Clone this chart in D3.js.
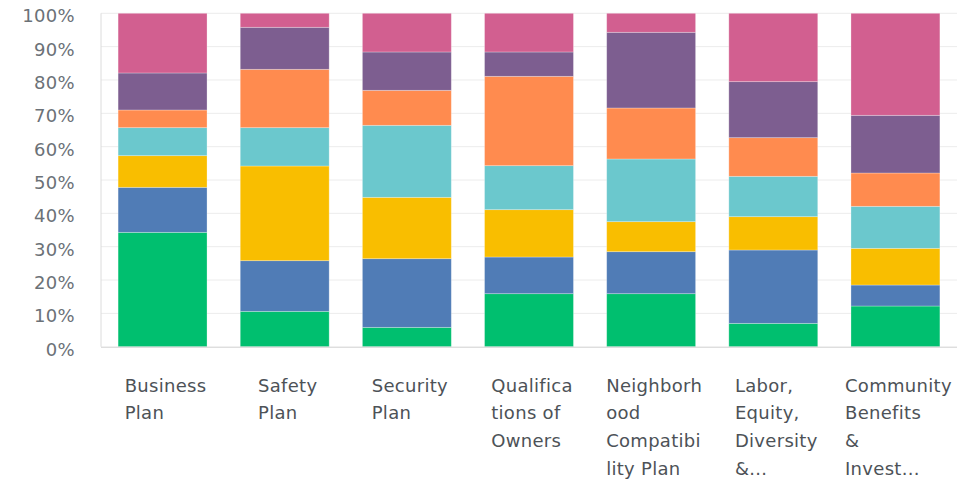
<!DOCTYPE html>
<html>
<head>
<meta charset="utf-8">
<script src="https://cdn.jsdelivr.net/npm/d3@7"></script>
<style>
  body { margin: 0; background: #fff; }
  svg { display: block; }
</style>
</head>
<body>
<div id="container"></div>
<script>
// categories and their wrapped tick labels
const categories = ["Business Plan", "Safety Plan", "Security Plan", "Qualifications of Owners",
  "Neighborhood Compatibility Plan", "Labor, Equity, Diversity &...", "Community Benefits & Invest..."];
const tickLines = [
  ["Business", "Plan"],
  ["Safety", "Plan"],
  ["Security", "Plan"],
  ["Qualifica", "tions of", "Owners"],
  ["Neighborh", "ood", "Compatibi", "lity Plan"],
  ["Labor,", "Equity,", "Diversity", "&..."],
  ["Community", "Benefits", "&", "Invest..."]
];

// series values (percent of responses), bottom to top
const s1 = [34.3, 10.6, 5.8, 15.9, 15.9, 7.0, 12.2];
const s2 = [13.5, 15.2, 20.6, 11.0, 12.6, 22.0, 6.3];
const s3 = [9.5, 28.4, 18.4, 14.2, 9.0, 10.0, 11.0];
const s4 = [8.4, 11.5, 21.6, 13.2, 18.8, 12.1, 12.6];
const s5 = [5.3, 17.5, 10.5, 26.8, 15.3, 11.6, 10.0];
const s6 = [11.1, 12.6, 11.5, 7.3, 22.7, 16.8, 17.3];
const s7 = [17.9, 4.2, 11.6, 11.6, 5.7, 20.5, 30.6];

const seriesKeys = ["s1", "s2", "s3", "s4", "s5", "s6", "s7"];
const colors = ["#00bf6f", "#507cb6", "#f9be00", "#6bc8cd", "#ff8b4f", "#7d5e90", "#d25f90"];
const yTicks = [0, 10, 20, 30, 40, 50, 60, 70, 80, 90, 100];

const rows = categories.map((c, i) => ({
  cat: c, s1: s1[i], s2: s2[i], s3: s3[i], s4: s4[i], s5: s5[i], s6: s6[i], s7: s7[i]
}));

const w = 974, h = 479;
const plotLeft = 101, plotRight = 957, plotTop = 13.3, plotBottom = 346.7;
const font = "DejaVu Sans, sans-serif";

const svg = d3.select("#container").append("svg")
  .attr("width", w).attr("height", h);

const x = d3.scaleBand()
  .domain(categories)
  .range([plotLeft, plotRight])
  .paddingInner(0.272)
  .paddingOuter(0.14);

const y = d3.scaleLinear()
  .domain([0, 100])
  .range([plotBottom, plotTop]);

// grid
svg.append("g").selectAll("line")
  .data(yTicks.filter(t => t > 0))
  .enter().append("line")
  .attr("x1", plotLeft).attr("x2", plotRight)
  .attr("y1", d => y(d)).attr("y2", d => y(d))
  .attr("stroke", "#ececec").attr("stroke-width", 1);

svg.append("line")
  .attr("x1", plotLeft).attr("x2", plotLeft)
  .attr("y1", plotTop).attr("y2", plotBottom)
  .attr("stroke", "#dcdcdc");

// y labels
svg.append("g").selectAll("text")
  .data(yTicks)
  .enter().append("text")
  .attr("x", 75)
  .attr("y", d => y(d) + 9)
  .attr("text-anchor", "end")
  .attr("font-family", font)
  .attr("font-size", 18)
  .attr("letter-spacing", 0.3)
  .attr("fill", "#6b7177")
  .text(d => d + "%");

// stacked bars
const stacked = d3.stack().keys(seriesKeys)(rows);

svg.append("g").selectAll("g")
  .data(stacked)
  .enter().append("g")
  .attr("fill", (d, i) => colors[i])
  .selectAll("rect")
  .data(d => d)
  .enter().append("rect")
  .attr("x", d => x(d.data.cat))
  .attr("y", d => y(d[1]))
  .attr("width", x.bandwidth())
  .attr("height", d => y(d[0]) - y(d[1]))
  .attr("stroke", "#fff")
  .attr("stroke-opacity", 0.35)
  .attr("stroke-width", 0.8);

// bottom axis line
svg.append("line")
  .attr("x1", plotLeft).attr("x2", plotRight)
  .attr("y1", plotBottom + 0.5).attr("y2", plotBottom + 0.5)
  .attr("stroke", "#cfcfcf");

// x labels: block centred under the bar, lines left-aligned
const xl = svg.append("g").selectAll("text")
  .data(categories)
  .enter().append("text")
  .attr("y", 391.5)
  .attr("font-family", font)
  .attr("font-size", 18)
  .attr("letter-spacing", 0.3)
  .attr("fill", "#4d5257");

xl.each(function(d, i) {
  const t = d3.select(this);
  const spans = t.selectAll("tspan")
    .data(tickLines[i])
    .enter().append("tspan")
    .attr("dy", (s, j) => j === 0 ? 0 : 27.7)
    .text(s => s);
  let maxW = 0;
  spans.each(function() { maxW = Math.max(maxW, this.getComputedTextLength()); });
  const x0 = x(d) + x.bandwidth() / 2 - maxW / 2 + 3;
  spans.attr("x", x0);
});
</script>
</body>
</html>
